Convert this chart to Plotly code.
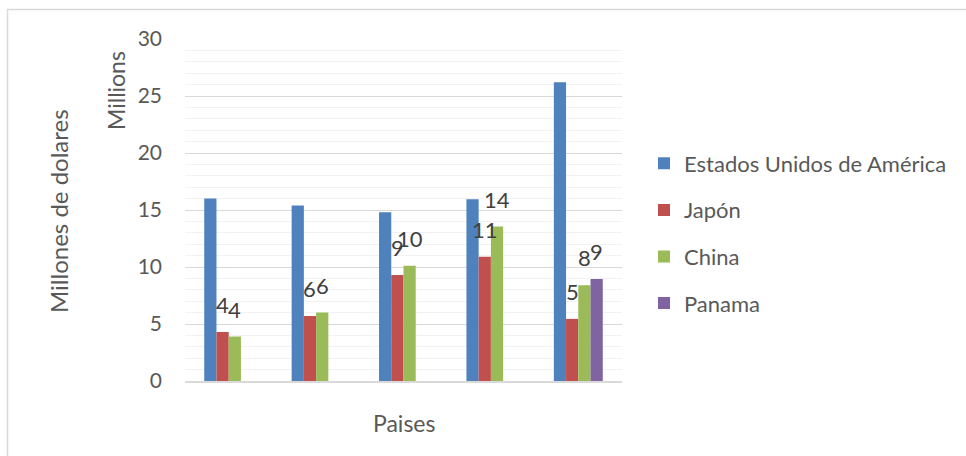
import plotly.graph_objects as go

categories = ["Grupo 1", "Grupo 2", "Grupo 3", "Grupo 4", "Grupo 5"]
series_names = ["Estados Unidos de América", "Japón", "China", "Panama"]
usa = [16.0, 15.4, 14.8, 15.95, 26.2]
japon = [4.3, 5.7, 9.3, 10.9, 5.45]
china = [3.9, 6.0, 10.1, 13.55, 8.4]
panama = [None, None, None, None, 8.95]
labelled = [False, True, True, True]  # which series show data labels
colors = ["#4F81BD", "#C0504D", "#9BBB59", "#8064A2"]
y_ticks = [0, 5, 10, 15, 20, 25, 30]

values = [usa, japon, china, panama]
bar_w = 0.14
xs = list(range(len(categories)))

fig = go.Figure()
annotations = []
for i, (name, vals, col) in enumerate(zip(series_names, values, colors)):
    off = -2 * bar_w + i * bar_w
    fig.add_trace(go.Bar(
        x=xs, y=vals, name=name, width=bar_w, offset=off,
        marker=dict(color=col, line=dict(width=0)),
        legendgroup=name,
    ))
    if labelled[i]:
        for xi, v in zip(xs, vals):
            if v is None:
                continue
            annotations.append(dict(
                x=xi + off + bar_w / 2, y=v, xref="x", yref="y",
                text=str(int(round(v))), showarrow=False,
                yanchor="bottom", xanchor="center", yshift=12,
                font=dict(family="Lato", size=22, color="#404040"),
            ))

annotations.append(dict(
    text="Millones de dolares", xref="paper", yref="paper",
    x=(58 - 185) / 437, y=(381 - 211) / 342, textangle=-90,
    showarrow=False, xanchor="center", yanchor="middle",
    font=dict(family="Lato", size=24, color="#595959"),
))
annotations.append(dict(
    text="Millions", xref="paper", yref="paper",
    x=(116 - 185) / 437, y=(381 - 91) / 342, textangle=-90,
    showarrow=False, xanchor="center", yanchor="middle",
    font=dict(family="Lato", size=23, color="#595959"),
))
annotations.append(dict(
    text="Paises", xref="paper", yref="paper",
    x=0.5, y=(381 - 423) / 342,
    showarrow=False, xanchor="center", yanchor="middle",
    font=dict(family="Lato", size=23, color="#595959"),
))

fig.update_layout(
    width=966, height=456,
    margin=dict(l=185, r=344, t=39, b=75),
    paper_bgcolor="white", plot_bgcolor="white",
    barmode="overlay",
    font=dict(family="Lato", color="#595959"),
    showlegend=True,
    legend=dict(
        x=(644 - 185) / 437, y=(381 - 233.5) / 342,
        xanchor="left", yanchor="middle",
        font=dict(family="Lato", size=22, color="#595959"),
        tracegroupgap=15, traceorder="grouped",
        bgcolor="rgba(0,0,0,0)",
    ),
    xaxis=dict(
        range=[-0.5, len(categories) - 0.5],
        showticklabels=False, ticks="", showgrid=False,
        showline=True, linecolor="#d9d9d9", linewidth=1.5,
        zeroline=False, fixedrange=True,
    ),
    yaxis=dict(
        range=[0, 30], tickvals=y_ticks, ticktext=[str(t) for t in y_ticks],
        showgrid=True, gridcolor="#d9d9d9", gridwidth=1,
        minor=dict(dtick=1, showgrid=True, gridcolor="#f2f2f2", gridwidth=1),
        zeroline=False, ticks="", ticklabelstandoff=22,
        tickfont=dict(family="Lato", size=21, color="#595959"),
    ),
    annotations=annotations,
    shapes=[dict(
        type="rect", xref="paper", yref="paper",
        x0=(7.5 - 185) / 437, x1=(975 - 185) / 437,
        y0=(381 - 480) / 342, y1=(381 - 9.5) / 342,
        line=dict(color="#d9d9d9", width=1.5), layer="below",
    )],
)

fig.write_html("out.html")
